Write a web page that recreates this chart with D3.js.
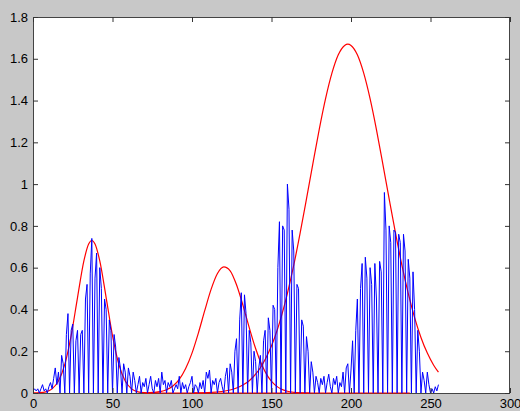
<!DOCTYPE html>
<html>
<head>
<meta charset="utf-8">
<script src="https://cdn.jsdelivr.net/npm/d3@7"></script>
<style>
  html, body { margin: 0; padding: 0; background: #c8c8c8; }
  svg { display: block; }
</style>
</head>
<body>
<svg id="chart" width="520" height="411"></svg>
<script>
// ---------------- data ----------------
const xTicks = [0, 50, 100, 150, 200, 250, 300];
const xTickLabels = ["0", "50", "100", "150", "200", "250", "300"];
const yTicks = [0, 0.2, 0.4, 0.6, 0.8, 1, 1.2, 1.4, 1.6, 1.8];
const yTickLabels = ["0", "0.2", "0.4", "0.6", "0.8", "1", "1.2", "1.4", "1.6", "1.8"];

// histogram (bins 0..255)
const histValues = [
  0.01,0.02,0.01,0.02,0.0,0.02,0.04,0.01,0.02,0.0,0.03,0.05,0.02,0.07,0.12,0.04,
  0.10,0.0,0.18,0.14,0.0,0.28,0.38,0.0,0.30,0.33,0.0,0.25,0.30,0.0,0.28,0.30,
  0.0,0.45,0.52,0.0,0.57,0.74,0.0,0.55,0.67,0.0,0.60,0.50,0.0,0.45,0.40,0.0,
  0.35,0.30,0.0,0.28,0.22,0.0,0.17,0.12,0.0,0.14,0.10,0.0,0.12,0.08,0.0,0.10,
  0.06,0.0,0.04,0.08,0.0,0.05,0.03,0.07,0.0,0.04,0.08,0.02,0.0,0.06,0.03,0.07,
  0.0,0.10,0.04,0.06,0.0,0.05,0.03,0.06,0.0,0.02,0.04,0.02,0.08,0.0,0.05,0.02,
  0.04,0.0,0.03,0.05,0.08,0.0,0.04,0.03,0.0,0.05,0.02,0.06,0.0,0.10,0.07,0.11,
  0.0,0.06,0.04,0.07,0.0,0.05,0.07,0.03,0.0,0.08,0.12,0.0,0.14,0.10,0.0,0.20,
  0.26,0.0,0.35,0.48,0.0,0.47,0.38,0.0,0.30,0.24,0.0,0.20,0.15,0.0,0.12,0.18,
  0.0,0.25,0.30,0.0,0.36,0.30,0.0,0.42,0.40,0.0,0.60,0.82,0.0,0.80,0.78,0.0,
  1.00,0.88,0.0,0.78,0.68,0.0,0.52,0.50,0.0,0.35,0.32,0.0,0.27,0.20,0.0,0.15,
  0.10,0.0,0.08,0.05,0.0,0.07,0.04,0.08,0.0,0.05,0.09,0.03,0.0,0.07,0.04,0.08,
  0.0,0.05,0.03,0.10,0.0,0.12,0.14,0.0,0.11,0.25,0.0,0.30,0.45,0.0,0.50,0.62,
  0.0,0.65,0.55,0.0,0.60,0.52,0.0,0.62,0.45,0.0,0.63,0.58,0.0,0.96,0.78,0.0,
  0.80,0.72,0.0,0.78,0.77,0.0,0.76,0.72,0.0,0.76,0.68,0.0,0.64,0.55,0.0,0.58,
  0.40,0.0,0.30,0.20,0.0,0.10,0.06,0.0,0.10,0.04,0.0,0.02,0.0,0.03,0.01,0.04
];

// fitted curves (sampled points)
const fit1X = [0,4,8,12,16,20,24,28,32,35,37,39,42,46,50,54,58,62,66,70,74,78,237];
const fit1Y = [0.0003,0.0014,0.0056,0.0197,0.057,0.137,0.275,0.457,0.632,0.713,0.73,0.713,0.632,0.457,0.275,0.137,0.057,0.0197,0.0056,0.0014,0.0003,0,0];

const fit2X = [70,76,80,84,88,92,96,100,104,108,112,116,120,124,128,132,136,140,144,148,152,156,160,164,168,174];
const fit2Y = [0,0.0027,0.0067,0.0157,0.0333,0.065,0.117,0.191,0.287,0.394,0.496,0.572,0.604,0.585,0.518,0.421,0.313,0.213,0.133,0.076,0.040,0.019,0.0084,0.0034,0.001,0];

const fit3X = [100,110,120,124,128,132,136,140,144,148,152,156,160,164,168,172,176,180,184,188,192,196,198,200,204,208,212,216,220,224,228,232,236,240,244,248,252,255];
const fit3Y = [0.0007,0.002,0.0085,0.0144,0.0238,0.038,0.059,0.090,0.133,0.191,0.266,0.361,0.477,0.612,0.765,0.929,1.097,1.261,1.409,1.531,1.619,1.664,1.67,1.664,1.619,1.531,1.409,1.261,1.097,0.929,0.765,0.612,0.477,0.361,0.266,0.191,0.133,0.0995];

// ---------------- drawing ----------------
const svg = d3.select("#chart");
const L = 33, R = 510, T = 17, B = 393;
const x = d3.scaleLinear().domain([0, 300]).range([L, R]);
const y = d3.scaleLinear().domain([0, 1.8]).range([B, T]);

svg.append("rect").attr("x", 0).attr("y", 0).attr("width", 520).attr("height", 411).attr("fill", "#c8c8c8");
svg.append("rect").attr("x", L).attr("y", T).attr("width", R - L).attr("height", B - T).attr("fill", "#ffffff");

// frame under the data
svg.append("rect").attr("x", L + 0.5).attr("y", T + 0.5).attr("width", R - L - 1).attr("height", B - T)
  .attr("fill", "none").attr("stroke", "#444").attr("stroke-width", 1);

const clip = svg.append("clipPath").attr("id", "clip");
clip.append("rect").attr("x", L).attr("y", T - 1).attr("width", R - L).attr("height", B - T + 2);

const plot = svg.append("g").attr("clip-path", "url(#clip)");

const redLine = d3.line().x(d => x(d[0])).y(d => y(d[1])).curve(d3.curveMonotoneX);
[[fit1X, fit1Y], [fit2X, fit2Y], [fit3X, fit3Y]].forEach(([xs, ys]) => {
  plot.append("path")
    .attr("d", redLine(xs.map((v, i) => [v, ys[i]])))
    .attr("fill", "none").attr("stroke", "#ff0000").attr("stroke-width", 1.2);
});

const blueLine = d3.line().x((d, i) => x(i)).y(d => y(d));
plot.append("path")
  .attr("d", blueLine(histValues))
  .attr("fill", "none").attr("stroke", "#0000ff").attr("stroke-width", 1);

// axes
const font = "'Liberation Sans', Arial, Helvetica, sans-serif";
const axB = d3.axisBottom(x).tickValues(xTicks).tickFormat((d, i) => xTickLabels[i]).tickSizeInner(-5).tickSizeOuter(0).tickPadding(6);
const axT = d3.axisTop(x).tickValues(xTicks).tickFormat("").tickSizeInner(-5).tickSizeOuter(0);
const axL = d3.axisLeft(y).tickValues(yTicks).tickFormat((d, i) => yTickLabels[i]).tickSizeInner(-5).tickSizeOuter(0).tickPadding(5);
const axR = d3.axisRight(y).tickValues(yTicks).tickFormat("").tickSizeInner(-5).tickSizeOuter(0);

function styleAxis(g) {
  g.select(".domain").remove();
  g.selectAll("line").attr("stroke", "#333");
  g.selectAll("text").attr("fill", "#000").style("font-family", font).style("font-size", "13px");
}
svg.append("g").attr("transform", `translate(0,${B})`).call(axB).call(styleAxis);
svg.append("g").attr("transform", `translate(0,${T})`).call(axT).call(styleAxis);
svg.append("g").attr("transform", `translate(${L},0)`).call(axL).call(styleAxis);
svg.append("g").attr("transform", `translate(${R},0)`).call(axR).call(styleAxis);
</script>
</body>
</html>
